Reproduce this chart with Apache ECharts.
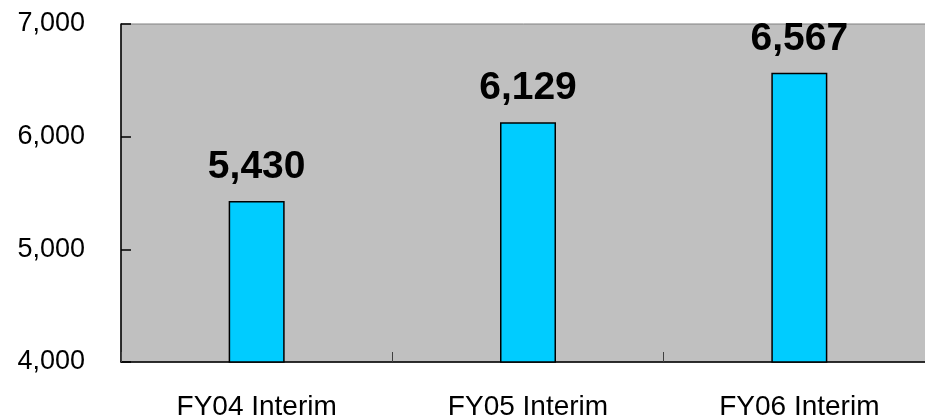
<!DOCTYPE html>
<html>
<head>
<meta charset="utf-8">
<script src="https://cdn.jsdelivr.net/npm/echarts@6/dist/echarts.min.js"></script>
<style>
  html, body { margin: 0; padding: 0; background: #ffffff; }
  #chart { width: 925px; height: 419px; }
</style>
</head>
<body>
<div id="chart"></div>
<script>
// Interim figures by fiscal year
const categories = ['FY04 Interim', 'FY05 Interim', 'FY06 Interim'];
const values = [5430, 6129, 6567];
const yTicks = [4000, 5000, 6000, 7000];

const fontFamily = '"Liberation Sans", Arial, sans-serif';

const chart = echarts.init(document.getElementById('chart'), null, { renderer: 'canvas' });

chart.setOption({
  animation: false,
  grid: {
    left: 121,
    top: 24,
    right: -10,
    bottom: 57,
    outerBoundsMode: 'none',
    containLabel: false,
    show: true,
    backgroundColor: '#C0C0C0',
    borderColor: '#808080',
    borderWidth: 1
  },
  xAxis: {
    type: 'category',
    data: categories,
    axisLine: { show: true, lineStyle: { color: '#000000', width: 1.5 } },
    axisTick: { show: true, inside: true, length: 10, lineStyle: { color: '#404040', width: 1 } },
    axisLabel: {
      color: '#000000',
      fontFamily: fontFamily,
      fontSize: 28,
      margin: 31
    }
  },
  yAxis: {
    type: 'value',
    min: yTicks[0],
    max: yTicks[yTicks.length - 1],
    interval: 1000,
    axisLine: { show: true, lineStyle: { color: '#000000', width: 1.5 } },
    axisTick: { show: true, inside: true, length: 10, lineStyle: { color: '#000000', width: 1.5 } },
    splitLine: { show: false },
    axisLabel: {
      color: '#000000',
      fontFamily: fontFamily,
      fontSize: 27,
      margin: 36,
      padding: [10, 0, 0, 0],
      formatter: v => v.toLocaleString('en-US')
    }
  },
  series: [{
    type: 'bar',
    data: values,
    barWidth: 56,
    itemStyle: {
      color: '#00CCFF',
      borderColor: '#000000',
      borderWidth: 1.5
    },
    label: {
      show: true,
      position: 'top',
      distance: 14,
      color: '#000000',
      fontFamily: fontFamily,
      fontWeight: 'bold',
      fontSize: 39,
      formatter: p => p.value.toLocaleString('en-US')
    }
  }]
});
</script>
</body>
</html>
